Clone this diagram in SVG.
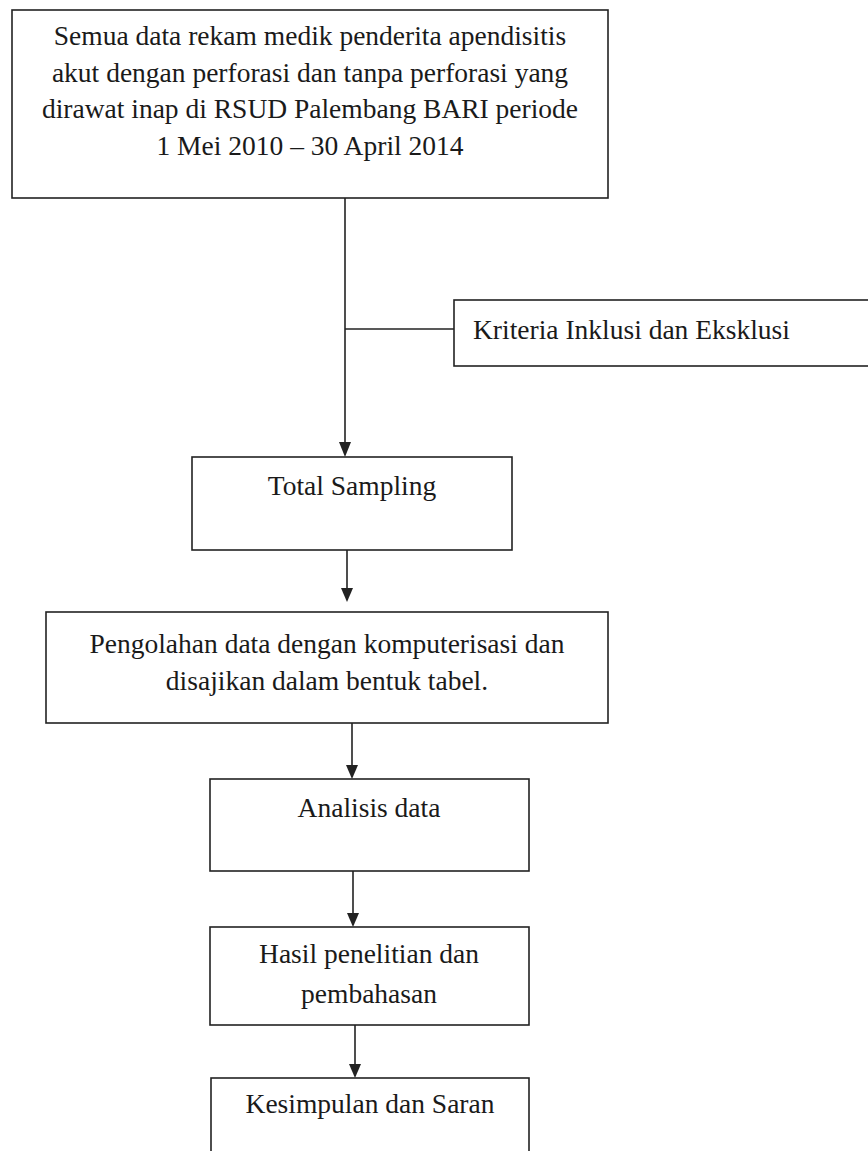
<svg xmlns="http://www.w3.org/2000/svg" width="868" height="1151" viewBox="0 0 868 1151">
<style>
.box{fill:#fff;stroke:#222;stroke-width:1.6}
.t{font-family:"Liberation Serif","Times New Roman",serif;font-size:27.5px;fill:#1a1a1a;text-anchor:middle}
.c{stroke:#222;stroke-width:1.6;fill:none}
.ah{fill:#222}
</style>
<rect width="868" height="1151" fill="#fff"/>
<g id="connectors">
<path class="c" d="M345,198 V444"/>
<path class="ah" d="M339,442 L351,442 L345,457 Z"/>
<line class="c" x1="345" y1="329" x2="454" y2="329"/>
<path class="c" d="M347,550 V590"/>
<path class="ah" d="M341,588 L353,588 L347,602 Z"/>
<path class="c" d="M352,723 V767"/>
<path class="ah" d="M346,765 L358,765 L352,779 Z"/>
<path class="c" d="M353,871 V915"/>
<path class="ah" d="M347,913 L359,913 L353,927 Z"/>
<path class="c" d="M355,1025 V1066"/>
<path class="ah" d="M349,1064 L361,1064 L355,1078 Z"/>
</g>
<g id="node-data">
<rect class="box" x="12" y="10" width="596" height="188"/>
<text class="t" x="310" y="45">Semua data rekam medik penderita apendisitis</text>
<text class="t" x="310" y="82">akut dengan perforasi dan tanpa perforasi yang</text>
<text class="t" x="310" y="118">dirawat inap di RSUD Palembang BARI periode</text>
<text class="t" x="310" y="155">1 Mei 2010 – 30 April 2014</text>
</g>
<g id="node-kriteria">
<rect class="box" x="454" y="300" width="430" height="66"/>
<text class="t" x="473" y="339" style="text-anchor:start">Kriteria Inklusi dan Eksklusi</text>
</g>
<g id="node-total">
<rect class="box" x="192" y="457" width="320" height="93"/>
<text class="t" x="352" y="495">Total Sampling</text>
</g>
<g id="node-pengolahan">
<rect class="box" x="46" y="612" width="562" height="111"/>
<text class="t" x="327" y="653">Pengolahan data dengan komputerisasi dan</text>
<text class="t" x="327" y="690">disajikan dalam bentuk tabel.</text>
</g>
<g id="node-analisis">
<rect class="box" x="210" y="779" width="319" height="92"/>
<text class="t" x="369" y="817">Analisis data</text>
</g>
<g id="node-hasil">
<rect class="box" x="210" y="927" width="319" height="98"/>
<text class="t" x="369" y="963">Hasil penelitian dan</text>
<text class="t" x="369" y="1003">pembahasan</text>
</g>
<g id="node-kesimpulan">
<rect class="box" x="211" y="1078" width="318" height="100"/>
<text class="t" x="370" y="1113">Kesimpulan dan Saran</text>
</g>
</svg>
